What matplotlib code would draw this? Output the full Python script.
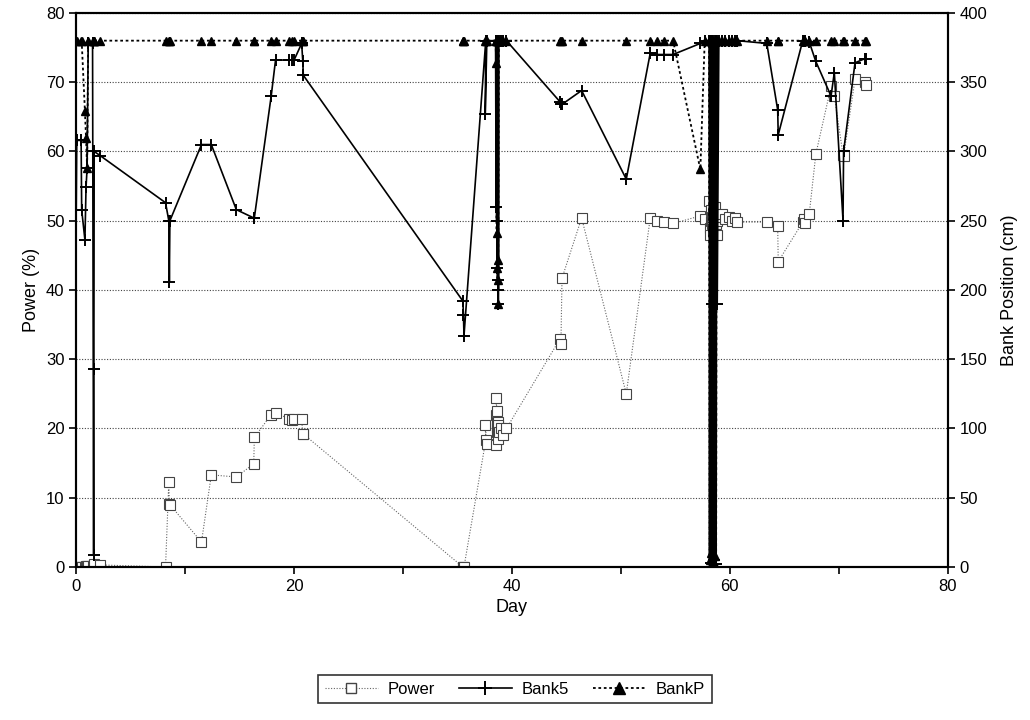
import matplotlib
matplotlib.use("Agg")
import matplotlib.pyplot as plt
from matplotlib.lines import Line2D

plt.rcParams['font.family'] = ['Liberation Sans', 'DejaVu Sans']

# logged readings: day, power (%), bank 5 position (cm), bank P position (cm)
day = [0.00, 0.05, 0.45, 0.50, 0.80, 0.90, 1.00, 1.10, 1.50, 1.60, 1.62, 1.65, 2.20,
       8.2, 8.5, 8.55, 8.6, 11.5, 12.4, 14.7, 16.3, 16.35, 17.9, 18.3, 19.5, 19.8, 20.0, 20.7, 20.8, 20.85,
       35.5, 35.55, 35.6, 37.6, 37.55, 37.7,
       38.5, 38.55, 38.58, 38.6, 38.62, 38.64, 38.66, 38.68, 38.7, 38.72, 38.74, 38.76, 38.8, 39.0, 39.2, 39.5,
       44.4, 44.5, 44.6, 46.4, 50.5, 52.7, 53.3, 54.0, 54.8, 57.3, 57.7,
       58.1, 58.15, 58.2, 58.25, 58.3, 58.35, 58.4, 58.45, 58.5, 58.55, 58.6, 58.65, 58.7, 58.75, 58.8, 58.85,
       59.0, 59.3, 59.6, 59.9, 60.2, 60.5, 60.7,
       63.4, 64.4, 64.45, 66.7, 66.8, 66.9, 67.3, 67.9, 69.3, 69.6, 70.4, 70.45, 71.5, 72.4, 72.5]

power = [0.0, 0.0, 0.0, 0.0, 0.0, 0.1, 0.1, 0.2, 0.2, 0.3, 0.3, 0.4, 0.3,
         0.0, 12.3, 9.1, 9.0, 3.6, 13.3, 13.0, 14.9, 18.7, 22.0, 22.3, 21.4, 21.2, 21.4, 21.3, 19.2, 19.2,
         0.0, 0.0, 0.0, 18.3, 20.5, 17.8,
         17.6, 22.0, 24.4, 22.5, 21.0, 20.0, 19.5, 19.0, 18.5, 20.0, 21.0, 20.5, 19.5, 20.0, 19.0, 20.0,
         32.9, 32.2, 41.7, 50.4, 25.0, 50.4, 49.9, 49.8, 49.6, 50.7, 50.2,
         52.9, 49.0, 48.0, 50.0, 51.5, 49.5, 50.5, 48.5, 51.0, 50.0, 49.0, 52.0, 50.5, 49.5, 50.0, 48.0,
         50.5, 51.0, 50.3, 50.6, 50.0, 50.4, 49.8,
         49.8, 49.3, 44.1, 49.8, 50.2, 49.6, 51.0, 59.6, 69.4, 68.0, 59.5, 59.3, 70.4, 70.0, 69.6]

bank5 = [258, 308, 308, 258, 236, 274, 288, 378, 378, 9, 143, 300, 297,
         263, 250, 206, 250, 305, 305, 258, 252, 252, 340, 366, 366, 366, 366, 378, 365, 355,
         192, 182, 167, 380, 327, 380,
         380, 260, 380, 250, 380, 216, 380, 207, 380, 190, 380, 200, 380, 380, 380, 380,
         336, 334, 334, 344, 280, 371, 370, 370, 370, 378, 380,
         380, 0, 380, 3, 380, 190, 380, 0, 380, 5, 380, 0, 380, 2, 380, 190,
         380, 380, 380, 380, 380, 380, 380,
         378, 330, 312, 380, 380, 380, 379, 365, 340, 357, 250, 300, 364, 367, 367]

bankp = [380, 380, 380, 380, 329, 310, 288, 380, 380, 380, 380, 380, 380,
         380, 380, 380, 380, 380, 380, 380, 380, 380, 380, 380, 380, 380, 380, 380, 380, 380,
         380, 380, 380, 380, 380, 380,
         380, 364, 380, 241, 380, 216, 380, 207, 380, 222, 380, 190, 380, 380, 380, 380,
         380, 380, 380, 380, 380, 380, 380, 380, 380, 287, 380,
         380, 5, 380, 10, 380, 0, 380, 3, 380, 0, 380, 8, 380, 0, 380, 380,
         380, 380, 380, 380, 380, 380, 380,
         380, 380, 380, 380, 380, 380, 380, 380, 380, 380, 380, 380, 380, 380, 380]

fig = plt.figure(figsize=(10.3, 7.2), dpi=100)
ax = fig.add_axes([0.074, 0.2125, 0.846, 0.7695])
ax2 = ax.twinx()

ax.plot(day, power, color="#666666", ls=(0, (1, 1.5)), lw=0.8, marker="s", ms=6.5,
        mfc="white", mec="#444444", mew=0.8)
ax2.plot(day, bank5, color="black", ls="-", lw=1.2, marker="+", ms=9, mew=1.4)
ax2.plot(day, bankp, color="black", ls=(0, (1.5, 1.5)), lw=1.3, marker="^", ms=6,
         mfc="black", mec="black")

ax.set_xlim(0, 80)
ax.set_ylim(0, 80)
ax2.set_ylim(0, 400)
ax.set_xticks(range(0, 81, 20))
ax.set_xticks(range(10, 80, 20), minor=True)
ax.set_yticks(range(0, 81, 10))
ax2.set_yticks(range(0, 401, 50))
ax.yaxis.grid(True, color="#444444", ls=(0, (1, 1.5)), lw=0.8)
ax.set_axisbelow(True)

ax.set_xlabel("Day", fontsize=13)
ax.set_ylabel("Power (%)", fontsize=13)
ax2.set_ylabel("Bank Position (cm)", fontsize=13, labelpad=10)
ax.tick_params(labelsize=12, width=1.2, length=5)
ax.tick_params(axis="x", which="minor", width=1.2, length=5)
ax2.tick_params(labelsize=12, width=1.2, length=5)
for a in (ax, ax2):
    for s in a.spines.values():
        s.set_linewidth(1.5)

handles = [
    Line2D([], [], color="#666666", ls=(0, (1, 1.5)), lw=0.8, marker="s", ms=7, mfc="white", mec="#444444"),
    Line2D([], [], color="black", ls="-", lw=1.2, marker="+", ms=10, mew=1.4),
    Line2D([], [], color="black", ls=(0, (1.5, 1.5)), lw=1.3, marker="^", ms=8, mfc="black"),
]
leg = fig.legend(handles, ["Power", "Bank5", "BankP"], loc="center", bbox_to_anchor=(0.5, 0.043),
                 ncol=3, fontsize=12, frameon=True, fancybox=False, edgecolor="black",
                 handlelength=3.2, columnspacing=1.4, handletextpad=0.6, borderpad=0.4)
leg.get_frame().set_linewidth(1.2)

fig.savefig("out.png", dpi=100)
